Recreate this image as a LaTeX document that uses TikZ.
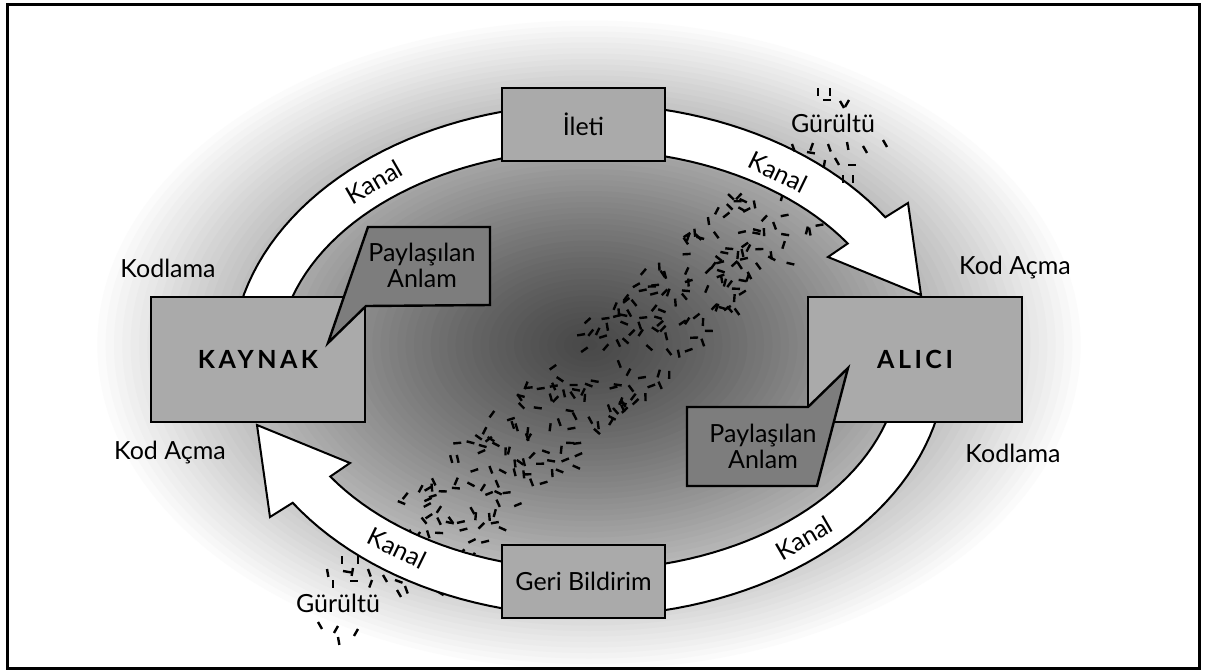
\documentclass[tikz,border=0pt]{standalone}
\usepackage{fontspec}
\setmainfont{Lato}
\usetikzlibrary{positioning}
\definecolor{boxgray}{RGB}{170,170,170}
\definecolor{talkgray}{RGB}{125,125,125}
\tikzset{
  box/.style={draw=black,line width=1.4pt,fill=boxgray,inner sep=0pt,
    font=\fontsize{12.5}{14}\selectfont},
  bigbox/.style={box,minimum width=107pt,minimum height=62.5pt,
    font=\fontsize{12.5}{14}\selectfont\bfseries\addfontfeatures{LetterSpace=14}},
  msgbox/.style={box,minimum width=81.5pt,minimum height=36.5pt},
  ring/.style={draw=black,line width=1pt,fill=white},
  talk/.style={draw=black,line width=1.2pt,fill=talkgray},
  lbl/.style={font=\fontsize{12.5}{13}\selectfont,inner sep=1pt},
  noise/.style={line width=1.2pt},
}

\begin{document}
\begin{tikzpicture}[x=0.5pt,y=-0.5pt]
\useasboundingbox (0,0) rectangle (1206,670);
\fill[white] (0,0) rectangle (1206,670);
% soft dark glow behind everything
\foreach \i in {60,59,...,1}{
  \pgfmathsetmacro{\t}{\i/60}
  \pgfmathsetmacro{\k}{72*(1-pow(\t,1.3))}
  \fill[black!\k] (589,345) ellipse [x radius=500*\t, y radius=330*\t];
}
\draw[line width=1.5pt] (7,4) rectangle (1199,668);

% noise band across the middle
\pgfmathsetseed{5}
\foreach \i in {1,...,290}{
  \pgfmathsetmacro{\s}{rnd}
  \pgfmathsetmacro{\w}{rand}
  \pgfmathsetmacro{\px}{400+400*\s+33*\w}
  \pgfmathsetmacro{\py}{565-380*\s+35*\w}
  \pgfmathsetmacro{\ang}{rnd*180}
  \draw[noise] (\px,\py) -- ++(\ang:8);
}

% channel arrows
\draw[ring] plot[domain=172:33.9,samples=60] ({589+357*cos(\x)},{360-256*sin(\x)})
  -- (908,203) -- (921,295) -- (828,257)
  -- plot[domain=33.7:172,samples=60] ({589+311*cos(\x)},{360-210*sin(\x)}) -- cycle;
\draw[ring] plot[domain=352:213.9,samples=60] ({589+357*cos(\x)},{360-256*sin(\x)})
  -- (270,517) -- (257,425) -- (350,463)
  -- plot[domain=213.7:352,samples=60] ({589+311*cos(\x)},{360-210*sin(\x)}) -- cycle;

% boxes
\node[bigbox] (kaynak) at (258,359.5) {KAYNAK};
\node[bigbox] (alici) at (915,359.5) {ALICI};
\node[msgbox] (ileti) at (583.5,124.5) {İleti};
\node[msgbox] (geri) at (583.5,581.5) {Geri Bildirim};

% shared meaning callouts
\draw[talk] (368,227) -- (490,227) -- (490,305) -- (366,306) -- (328,343) -- cycle;
\node[lbl,align=center] (anlam1) at (422,265) {Paylaşılan\\Anlam};
\draw[talk] (687,407) -- (808,407) -- (848,368) -- (817,486) -- (687,486) -- cycle;
\node[lbl,align=center] (anlam2) at (763,446) {Paylaşılan\\Anlam};

% labels
\node[lbl] (kod1) at (168,268) {Kodlama};
\node[lbl] (acma1) at (1015,268) {Kod Açma};
\node[lbl] (acma2) at (170,453) {Kod Açma};
\node[lbl] (kod2) at (1013,453) {Kodlama};
\node[lbl,rotate=30] (kanal1) at (374,182) {Kanal};
\node[lbl,rotate=-26] (kanal2) at (778,172) {Kanal};
\node[lbl,rotate=30] (kanal3) at (804,538) {Kanal};
\node[lbl,rotate=-26] (kanal4) at (397,548) {Kanal};
\node[lbl] (gurultu1) at (833,123) {Gürültü};
\node[lbl] (gurultu2) at (338,603) {Gürültü};

% noise around the labels
\foreach \px/\py/\ang in {818/88/90,830/88/90,823/100/0,840/101/60,849/100/120,
  792/144/70,807/152/10,813/143/110,828/144/70,825/160/100,835/158/60,
  847/142/80,863/146/60,883/140/60,848/165/0,843/175/90,853/175/90,
  342/556/90,358/556/90,327/569/80,343/571/10,353/568/100,368/569/70,
  333/580/90,350/581/0,372/580/110,383/575/60,395/580/20,397/590/60,
  405/586/70,318/622/60,338/626/120,358/629/120,338/637/80}
  \draw[noise] (\px,\py) -- ++(\ang:8);
\end{tikzpicture}
\end{document}
